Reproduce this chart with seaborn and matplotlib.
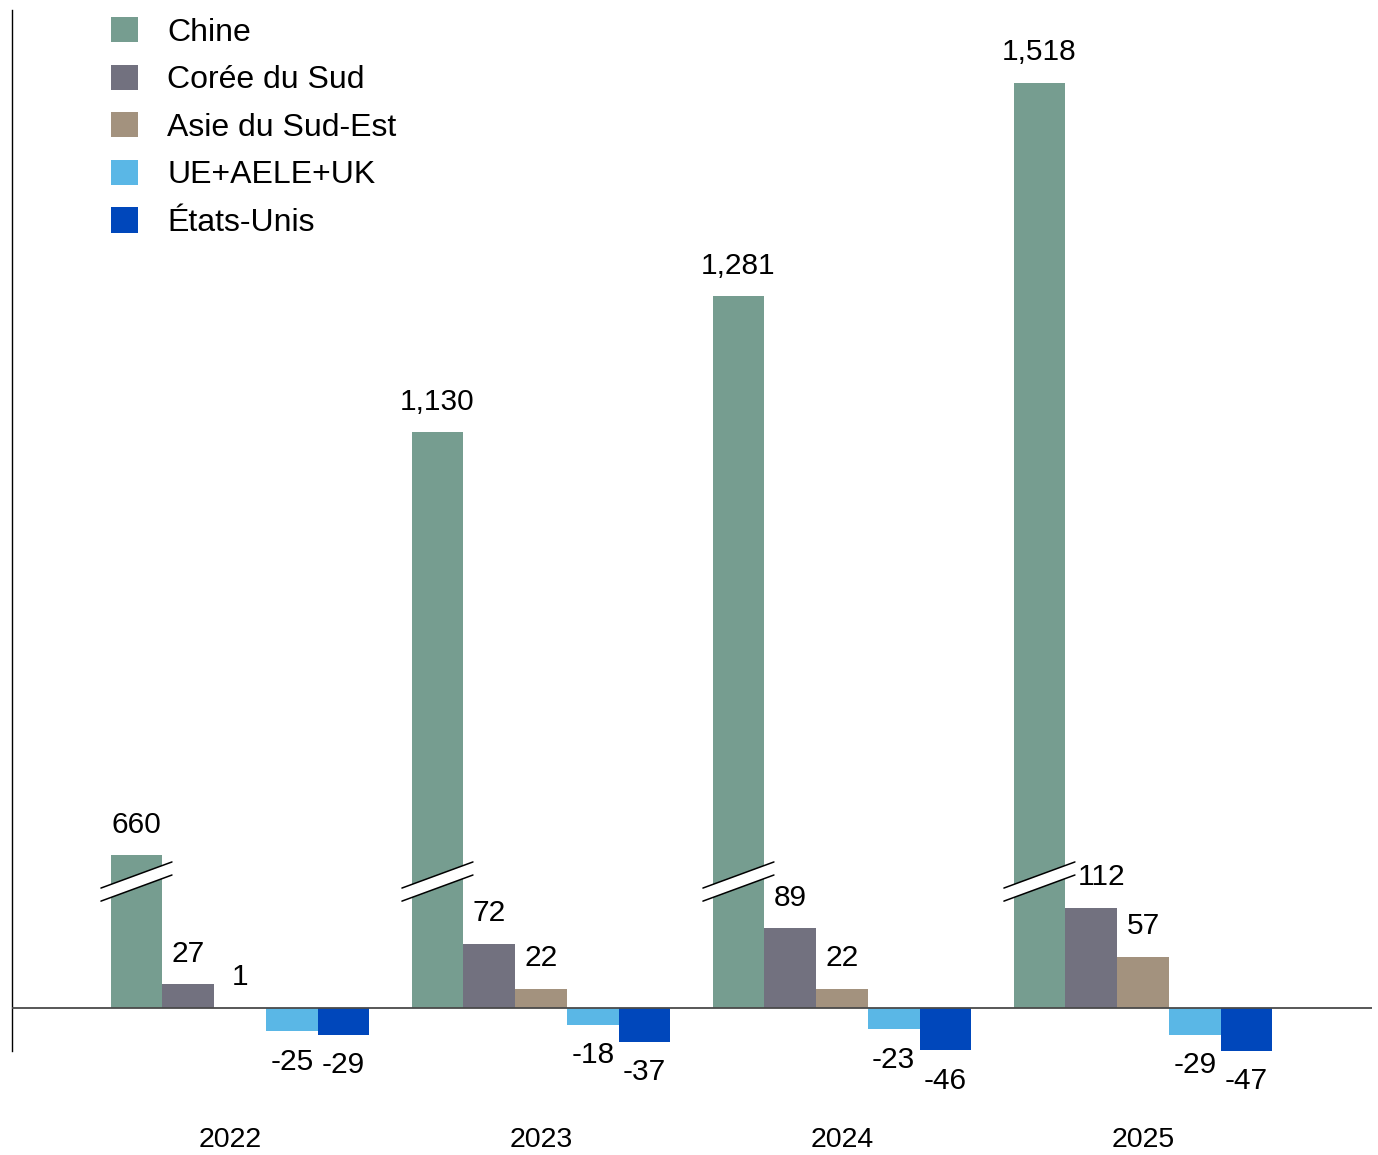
import matplotlib
matplotlib.use("Agg")
import matplotlib.pyplot as plt
import matplotlib.transforms as mtransforms
import seaborn as sns
import pandas as pd
import numpy as np
from matplotlib.patches import Polygon
from matplotlib.lines import Line2D

# ---- data ----
years = ["2022", "2023", "2024", "2025"]
regions = ["Chine", "Corée du Sud", "Asie du Sud-Est", "UE+AELE+UK", "États-Unis"]
chine = [660, 1130, 1281, 1518]
coree = [27, 72, 89, 112]
asie = [1, 22, 22, 57]
ue = [-25, -18, -23, -29]
usa = [-29, -37, -46, -47]
colors = ["#769d90", "#72717f", "#a3927e", "#5ab7e6", "#0047bb"]

# broken-axis offset applied to the Chine series
BREAK_OFFSET = 490

series = [chine, coree, asie, ue, usa]
rows = []
for r, vals in zip(regions, series):
    for y, v in zip(years, vals):
        pv = v - BREAK_OFFSET if r == "Chine" else v
        rows.append({"year": y, "region": r, "value": v, "plot_value": pv})
df = pd.DataFrame(rows)

sns.set_theme(style="white")
plt.rcParams["font.family"] = ["Liberation Sans", "DejaVu Sans"]
plt.rcParams["text.color"] = "black"

fig = plt.figure(figsize=(13.78, 11.55), dpi=100)
ax = fig.add_axes([12 / 1378, 1 - 1050.8 / 1155, 1360 / 1378, (1050.8 - 10) / 1155])

sns.barplot(data=df, x="year", y="plot_value", hue="region", hue_order=regions,
            order=years, palette=colors, width=0.86, saturation=1, errorbar=None,
            ax=ax, linewidth=0)

ax.set_xlim(-0.7575, 3.761)
ax.set_ylim(-47, 1109)

# value labels
for cont, r, vals in zip(ax.containers, regions, series):
    labels = [f"{v:,}" for v in vals]
    anns = ax.bar_label(cont, labels=labels, padding=12, fontsize=21.5, color="black")
    for ann in anns:
        if ann.get_text() == "112":
            x, y = ann.xyann
            ann.xyann = (x + 7.5, y)

# break marks on the Chine bars
ymid = 141
dy = 14.5
ddx = 0.118
for bar in ax.containers[0]:
    cx = bar.get_x() + bar.get_width() / 2
    x0, x1 = cx - ddx, cx + ddx
    slope = 29.0  # data units over the width
    y0a, y1a = ymid - slope / 2 + dy / 2, ymid + slope / 2 + dy / 2
    y0b, y1b = ymid - slope / 2 - dy / 2, ymid + slope / 2 - dy / 2
    poly = Polygon([[x0, y0b], [x1, y1b], [x1, y1a], [x0, y0a]], closed=True,
                   facecolor="white", edgecolor="none", zorder=5)
    ax.add_patch(poly)
    ax.add_line(Line2D([x0, x1], [y0a, y1a], color="black", lw=1.1, zorder=6))
    ax.add_line(Line2D([x0, x1], [y0b, y1b], color="black", lw=1.1, zorder=6))

ax.axhline(0, color="#4a4a4a", lw=1.3, zorder=4)

for s in ["top", "right", "bottom"]:
    ax.spines[s].set_visible(False)
ax.spines["left"].set_color("black")
ax.spines["left"].set_linewidth(1.0)

ax.set_yticks([])
ax.set_xlabel("")
ax.set_ylabel("")
ax.tick_params(axis="x", length=0, pad=55, labelsize=20.5, labelcolor="black")
# first year label sits slightly left in the reference
lbl0 = ax.get_xticklabels()[0]
lbl0.set_transform(lbl0.get_transform() + mtransforms.ScaledTranslation(-10 / 100, 0, fig.dpi_scale_trans))

handles, labels = ax.get_legend_handles_labels()
if ax.get_legend() is not None:
    ax.get_legend().remove()
fig.legend(handles, labels, loc="upper left",
           bbox_to_anchor=(111 / 1378, 1 - 17 / 1155),
           frameon=False, fontsize=23, handlelength=0.845, handleheight=0.845,
           handletextpad=0.91, labelspacing=0.526, borderpad=0, borderaxespad=0,
           labelcolor="black")

fig.savefig("out.png", dpi=100)
